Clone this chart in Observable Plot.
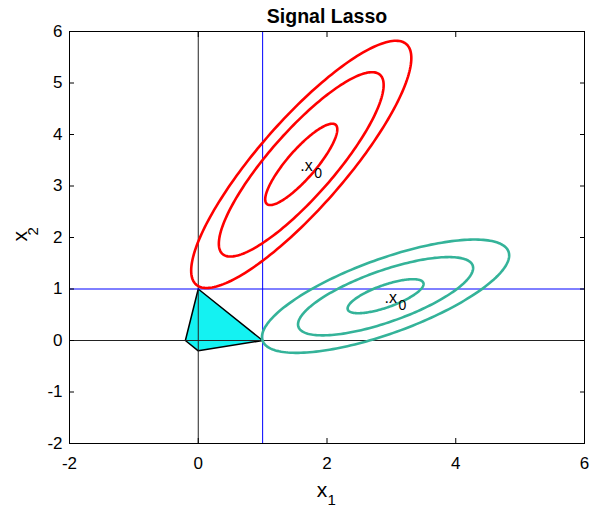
<!DOCTYPE html>
<html><head><meta charset="utf-8">
<script src="https://cdn.jsdelivr.net/npm/d3@7"></script>
<script src="https://cdn.jsdelivr.net/npm/@observablehq/plot@0.6"></script>
<style>body{margin:0;background:#fff}</style>
</head><body><div id="chart"></div>
<script>
const xTicks = [-2, 0, 2, 4, 6];
const yTicks = [-2, -1, 0, 1, 2, 3, 4, 5, 6];
const titleText = "Signal Lasso";
const xLabelMain = "x", xLabelSub = "1";
const yLabelMain = "x", yLabelSub = "2";
const centerMain = ".x", centerSub = "0";

// red contours: centre, x half-extent and y half-extent per level, correlation
const redCenter = [1.6, 3.42];
const redHalfWidths = [0.56, 1.28, 1.71];
const redHalfHeights = [0.79, 1.79, 2.40];
const redRho = 0.86;

// teal contours
const tealCenter = [2.91, 0.86];
const tealHalfWidths = [0.59, 1.36, 1.92];
const tealHalfHeights = [0.33, 0.76, 1.10];
const tealRho = 0.72;

// constraint region vertices
const lassoX = [0, 1, 0, -0.2, 0];
const lassoY = [1, 0, -0.2, 0, 1];

const blackLines = [0];
const blueLines = [1];

function ellipsePoints(c, hw, hh, rho) {
  const pts = [], n = 200, s = Math.sqrt(1 - rho * rho);
  hw.forEach((a, i) => {
    const b = hh[i];
    for (let k = 0; k <= n; k++) {
      const t = 2 * Math.PI * k / n;
      pts.push({x: c[0] + a * Math.cos(t), y: c[1] + b * (rho * Math.cos(t) + s * Math.sin(t)), level: i});
    }
  });
  return pts;
}
const redPts = ellipsePoints(redCenter, redHalfWidths, redHalfHeights, redRho);
const tealPts = ellipsePoints(tealCenter, tealHalfWidths, tealHalfHeights, tealRho);
const lasso = lassoX.map((x, i) => ({x, y: lassoY[i]}));
const centers = [{x: redCenter[0], y: redCenter[1]}, {x: tealCenter[0], y: tealCenter[1]}];

const plot = Plot.plot({
  width: 593, height: 508,
  marginLeft: 69, marginRight: 9, marginTop: 31, marginBottom: 65,
  x: {domain: [-2, 6]},
  y: {domain: [-2, 6]},
  style: {fontFamily: "'Liberation Sans', Arial, sans-serif", fontSize: "17px", color: "#000", background: "#fff"},
  marks: [
    Plot.line(lasso, {x: "x", y: "y", fill: "#14f2f2", stroke: "#000", strokeWidth: 1.5}),
    Plot.ruleX(blackLines, {stroke: "#222", strokeWidth: 1}),
    Plot.ruleY(blackLines, {stroke: "#222", strokeWidth: 1}),
    Plot.ruleX(blueLines, {stroke: "#0000ff", strokeWidth: 1}),
    Plot.ruleY(blueLines, {stroke: "#0000ff", strokeWidth: 1}),
    Plot.line(redPts, {x: "x", y: "y", z: "level", stroke: "#ff0000", strokeWidth: 2.6}),
    Plot.line(tealPts, {x: "x", y: "y", z: "level", stroke: "#34b399", strokeWidth: 2.6}),
    Plot.text(centers, {x: "x", y: "y", text: () => centerMain, textAnchor: "start", lineAnchor: "middle", dx: -1, dy: 2, fontSize: 16, fill: "#000"}),
    Plot.text(centers, {x: "x", y: "y", text: () => centerSub, textAnchor: "start", lineAnchor: "middle", dx: 13, dy: 9, fontSize: 14, fill: "#000"}),
    Plot.axisX({anchor: "bottom", ticks: xTicks, tickSize: -5, tickPadding: 18.7, tickFormat: d => String(d), label: null}),
    Plot.axisX({anchor: "top", ticks: xTicks, tickSize: -5, tickFormat: () => "", label: null}),
    Plot.axisY({anchor: "left", ticks: yTicks, tickSize: -5, tickPadding: 12, tickFormat: d => String(d), label: null}),
    Plot.axisY({anchor: "right", ticks: yTicks, tickSize: -5, tickFormat: () => "", label: null}),
    Plot.frame({stroke: "#000", strokeWidth: 1}),
    Plot.text([titleText], {frameAnchor: "top", dy: -15, fontWeight: "bold", fontSize: 19.5, lineAnchor: "middle", fill: "#000"}),
    Plot.text([xLabelMain], {frameAnchor: "bottom", dx: -5, dy: 46.5, fontSize: 21, lineAnchor: "middle", fill: "#000"}),
    Plot.text([xLabelSub], {frameAnchor: "bottom", textAnchor: "start", dx: 0.5, dy: 57, fontSize: 15, lineAnchor: "middle", fill: "#000"}),
    Plot.text([yLabelMain], {frameAnchor: "left", rotate: -90, dx: -49, dy: 4, fontSize: 21, lineAnchor: "middle", fill: "#000"}),
    Plot.text([yLabelSub], {frameAnchor: "left", rotate: -90, textAnchor: "start", dx: -36.8, dy: -2, fontSize: 15, lineAnchor: "middle", fill: "#000"})
  ]
});
document.getElementById("chart").appendChild(plot);
</script>
</body></html>
